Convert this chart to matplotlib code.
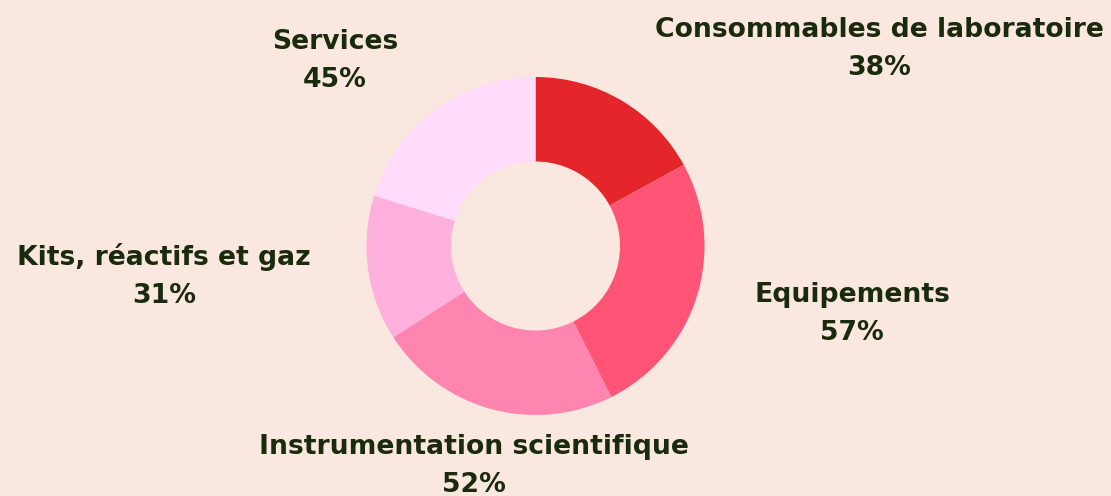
import matplotlib.pyplot as plt

categories = ['Consommables de laboratoire', 'Equipements', 'Instrumentation scientifique',
              'Kits, réactifs et gaz', 'Services']
values = [38, 57, 52, 31, 45]
colors = ['#E4262A', '#FF5475', '#FF85B1', '#FFB0DD', '#FFDCFB']

bg = '#FAE7DF'
ink = '#1A2A0D'

# label centres in pixels (x, y from top)
label_pos = [(879, 49), (852, 314), (474, 466), (164, 276), (335, 61)]

W, H = 1111, 496
fig = plt.figure(figsize=(W / 100, H / 100), dpi=100)
fig.patch.set_facecolor(bg)

cx, cy, r = 535.5, 246, 169
ax = fig.add_axes([(cx - r) / W, 1 - (cy + r) / H, 2 * r / W, 2 * r / H])
ax.set_facecolor(bg)
ax.pie(values, colors=colors, startangle=90, counterclock=False, radius=1,
       wedgeprops=dict(width=0.5, edgecolor='none'))
ax.set_xlim(-1, 1)
ax.set_ylim(-1, 1)
ax.set_aspect('auto')
ax.axis('off')

for cat, v, (x, y) in zip(categories, values, label_pos):
    fig.text(x / W, 1 - y / H, f'{cat}\n{v}%', ha='center', va='center',
             fontsize=19.2, fontweight='bold', family='DejaVu Sans', color=ink,
             linespacing=1.63)

fig.savefig('out.png', dpi=100, facecolor=bg)
